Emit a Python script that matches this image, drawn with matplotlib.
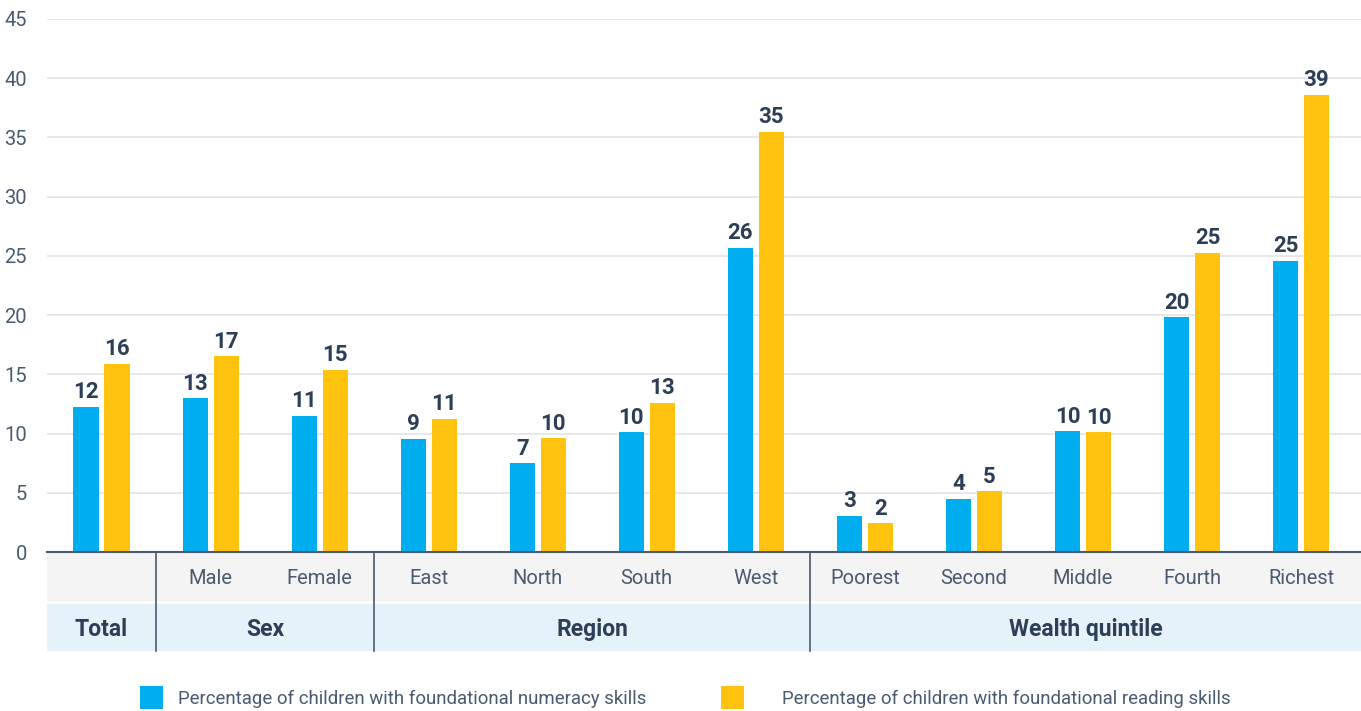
import matplotlib
matplotlib.use("Agg")
import matplotlib.pyplot as plt
import matplotlib.transforms as mtransforms
from matplotlib.patches import Rectangle
import numpy as np

categories = ["", "Male", "Female", "East", "North", "South", "West",
              "Poorest", "Second", "Middle", "Fourth", "Richest"]
groups = ["Total", "Sex", "Region", "Wealth quintile"]
group_sizes = [1, 2, 4, 5]
numeracy = [12.25, 13.0, 11.5, 9.55, 7.5, 10.1, 25.7, 3.05, 4.5, 10.2, 19.8, 24.6]
reading = [15.9, 16.55, 15.4, 11.25, 9.6, 12.6, 35.5, 2.45, 5.15, 10.1, 25.25, 38.6]
numeracy_labels = ["12", "13", "11", "9", "7", "10", "26", "3", "4", "10", "20", "25"]
reading_labels = ["16", "17", "15", "11", "10", "13", "35", "2", "5", "10", "25", "39"]
series_names = ["Percentage of children with foundational numeracy skills",
                "Percentage of children with foundational reading skills"]
yticks = [0, 5, 10, 15, 20, 25, 30, 35, 40, 45]

BLUE = "#00AEEF"
YELLOW = "#FFC20E"
DARK = "#2D3E57"
TXT = "#4A5A70"

plt.rcParams['font.family'] = ['Roboto', 'DejaVu Sans']

W, H = 1361, 711
fig = plt.figure(figsize=(W / 100, H / 100), dpi=100)
ax = fig.add_axes([47 / W, (H - 552) / H, 1 - 47 / W, (552 - 19) / H])

x = np.arange(len(categories))
bw = 0.23
off = 0.142
b1 = ax.bar(x - off, numeracy, bw, color=BLUE, zorder=3)
b2 = ax.bar(x + off, reading, bw, color=YELLOW, zorder=3)
for bars, labs in ((b1, numeracy_labels), (b2, reading_labels)):
    for r, lab in zip(bars, labs):
        ax.annotate(lab, (r.get_x() + r.get_width() / 2, r.get_height()),
                    xytext=(0, 2.5), textcoords="offset points", ha="center", va="bottom",
                    fontsize=16, fontweight="bold", color=DARK)

xmax = 11.55
ax.set_xlim(-0.5, xmax)
ax.set_ylim(0, 45)
ax.set_yticks(yticks)
ax.yaxis.grid(True, color="#E2E4E8", linewidth=1.2, zorder=0)
ax.set_axisbelow(True)
for s in ["top", "right", "left"]:
    ax.spines[s].set_visible(False)
ax.spines["bottom"].set_color("#4B5A6E")
ax.spines["bottom"].set_linewidth(1.5)
ax.spines["bottom"].set_zorder(5)
ax.tick_params(axis="y", length=0, labelsize=14.5, labelcolor=TXT, pad=14.5)
ax.tick_params(axis="x", length=0)
ax.set_xticks([])
for lab in ax.get_yticklabels():
    lab.set_horizontalalignment("right")

# table below
tr = mtransforms.blended_transform_factory(ax.transData, fig.transFigure)
r1_bot, r1_top = (H - 601) / H, (H - 552) / H
r2_bot, r2_top = (H - 651) / H, (H - 604) / H
ax.add_patch(Rectangle((-0.5, r1_bot), xmax + 0.5, r1_top - r1_bot, transform=tr,
                       facecolor="#F4F4F4", edgecolor="none", clip_on=False, zorder=1))
ax.add_patch(Rectangle((-0.5, r2_bot), xmax + 0.5, r2_top - r2_bot, transform=tr,
                       facecolor="#E6F2FA", edgecolor="none", clip_on=False, zorder=1))
for i, c in enumerate(categories):
    ax.text(i, (r1_bot + r1_top) / 2 - 1.5 / H, c, transform=tr, ha="center", va="center",
            fontsize=14.5, color=TXT)

bounds = np.cumsum([0] + group_sizes) - 0.5
bounds[-1] = xmax
for k, g in enumerate(groups):
    ax.text((bounds[k] + bounds[k + 1]) / 2, (r2_bot + r2_top) / 2 - 2 / H, g, transform=tr,
            ha="center", va="center", fontsize=16.5, fontweight="bold", color=DARK)
for b in bounds[1:-1]:
    ax.plot([b, b], [r2_bot, r1_top], transform=tr, color="#4B5A6E", linewidth=1.2,
            clip_on=False, zorder=4)

# legend
ly = (H - 697) / H
sq_h = 23 / H
sq_w = 23 / W
for x0, col, name, tx in ((140, BLUE, series_names[0], 178), (721, YELLOW, series_names[1], 782)):
    fig.patches.append(Rectangle((x0 / W, ly - sq_h / 2), sq_w, sq_h, transform=fig.transFigure,
                                 facecolor=col, edgecolor="none"))
    fig.text(tx / W, ly - 2 / H, name, ha="left", va="center", fontsize=13.4, color=TXT)

fig.savefig("out.png", dpi=100)
